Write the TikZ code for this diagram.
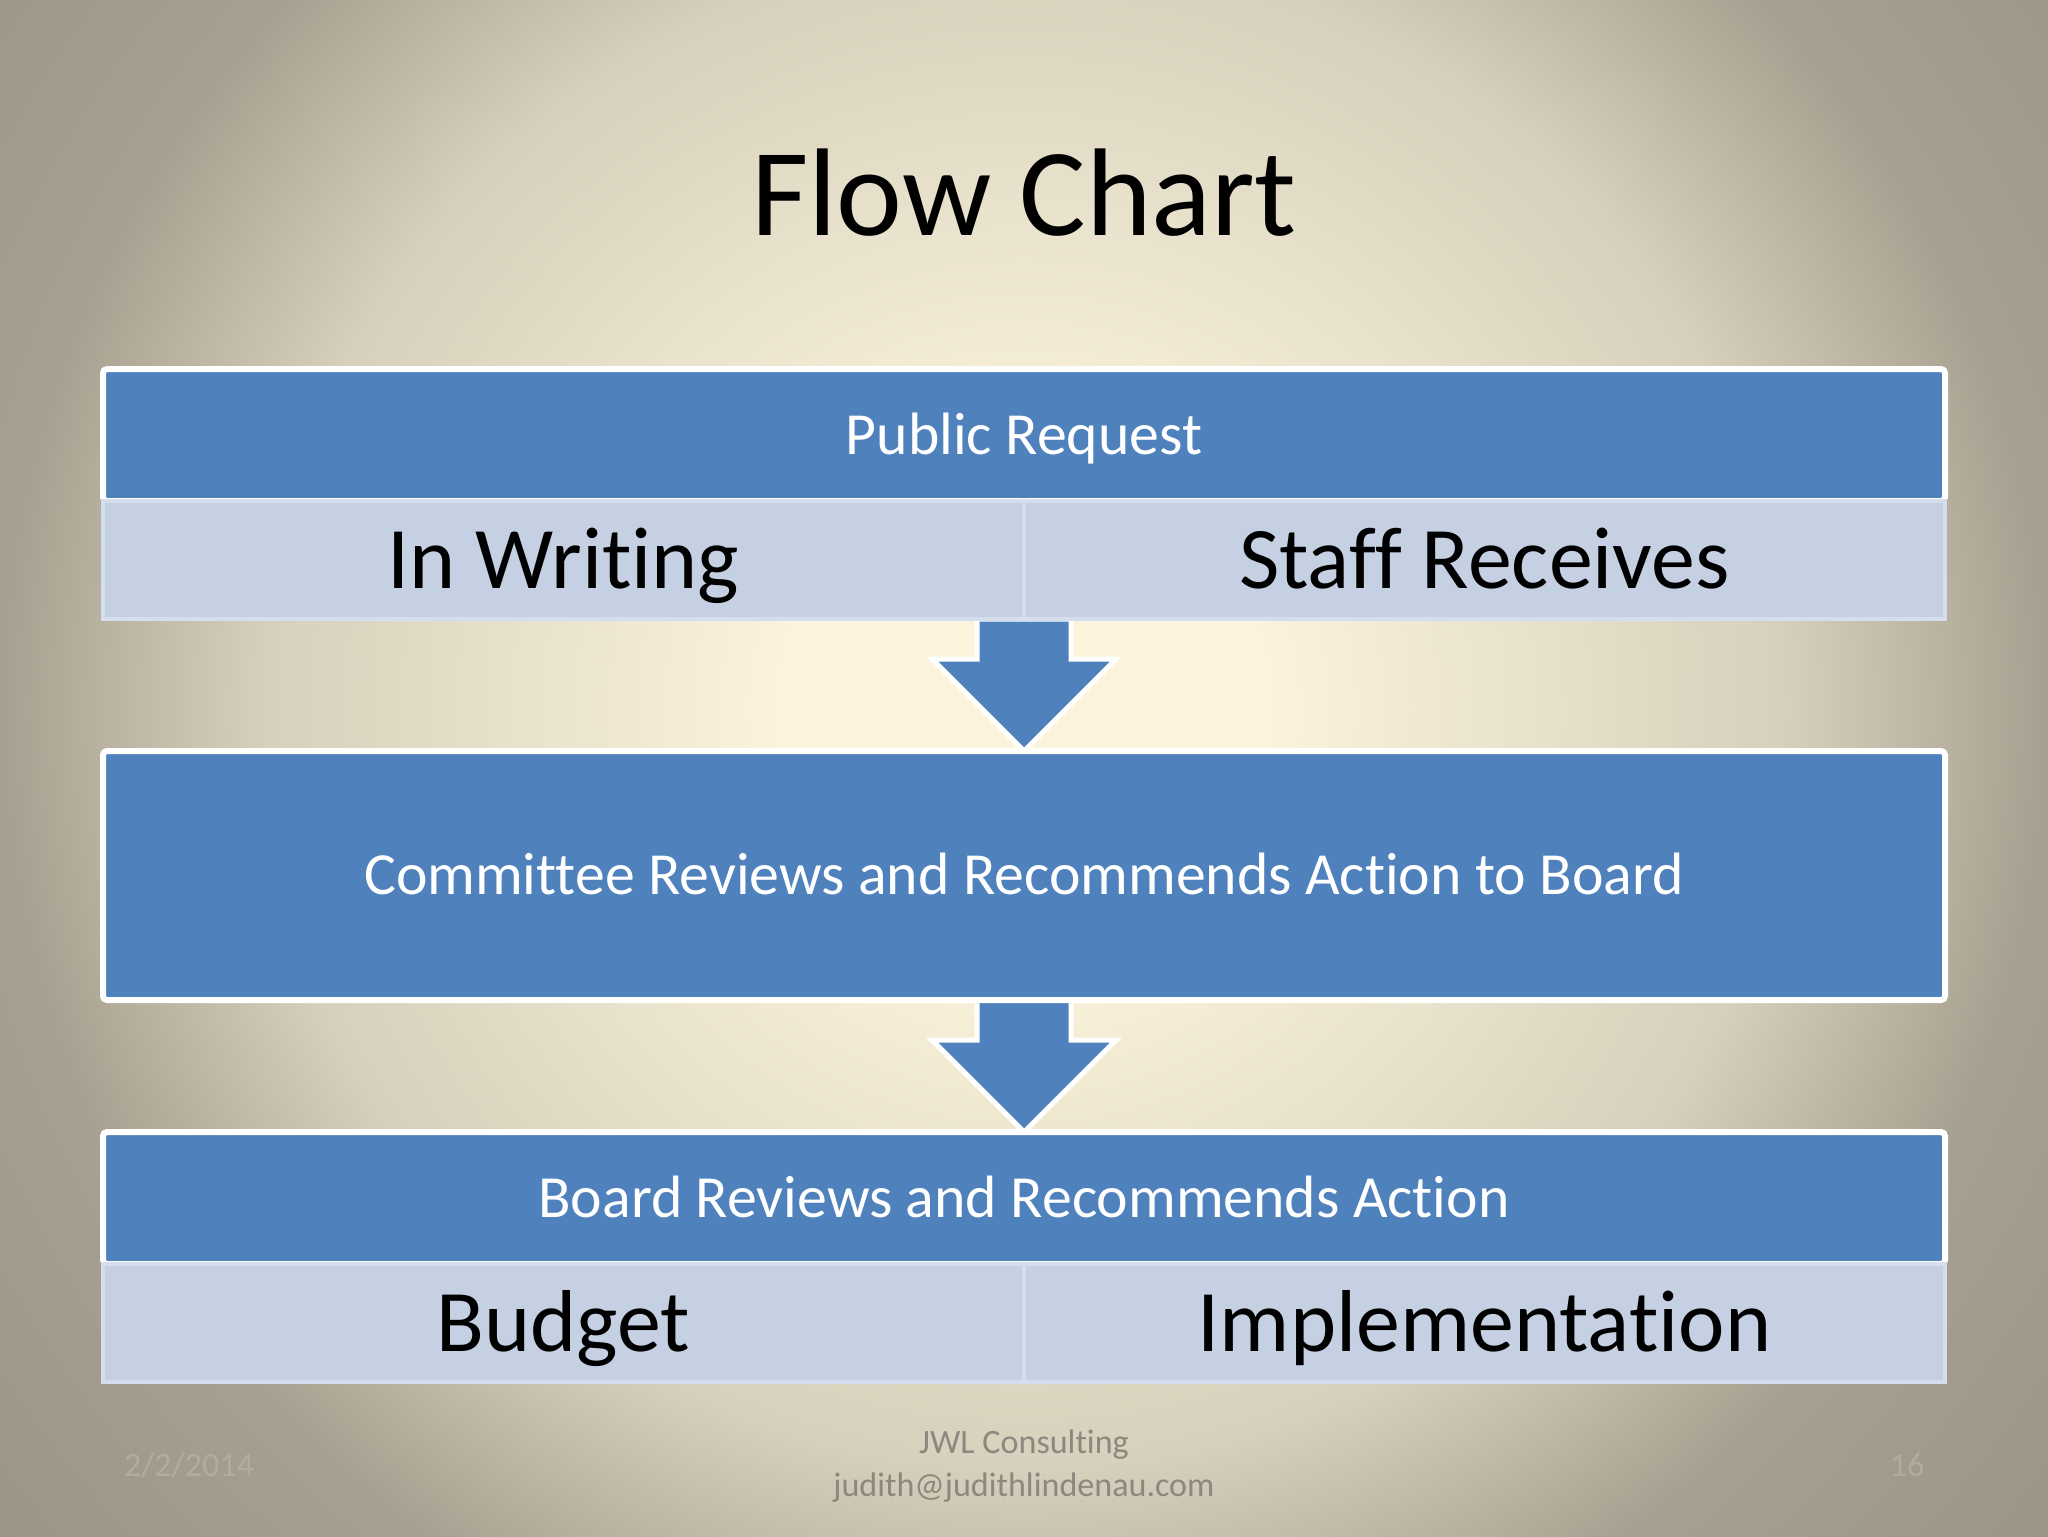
\documentclass[tikz,border=0pt]{standalone}
\usepackage{fontspec}
\setmainfont{Carlito}[Ligatures={NoCommon}]
\usetikzlibrary{positioning,calc,backgrounds}

\definecolor{hdrblue}{HTML}{4F81BD}
\definecolor{cellblue}{HTML}{C5D0E3}
\definecolor{cellline}{HTML}{D5DEEE}
\definecolor{bgcenter}{HTML}{FBF3DB}
\definecolor{bgmid}{HTML}{D6D0BC}
\definecolor{bgedge}{HTML}{A7A090}
\definecolor{bgcorner}{HTML}{968F80}
\definecolor{footgrey}{HTML}{8C887F}
\definecolor{faintgrey}{HTML}{B3AC9C}

\pgfdeclareradialshading{slidebg}{\pgfpoint{0bp}{0bp}}{color(0bp)=(bgcenter); color(6bp)=(bgcenter); color(18.5bp)=(bgmid); color(25bp)=(bgedge); color(36bp)=(bgcorner)}

\begin{document}
\begin{tikzpicture}[
            x=0.1mm, y=-0.1mm,
            every node/.style={align=center, inner sep=0pt, outer sep=0pt},
            header/.style={fill=hdrblue, draw=white, line width=0.6mm, rounded corners=0.4mm, minimum width=184.2mm, minimum height=13.2mm, text=white, text height=10.9pt, text depth=0pt, font=\fontsize{17}{20}\selectfont},
            cell/.style={fill=cellblue, draw=cellline, line width=0.4mm, minimum width=92.1mm, minimum height=11.8mm, text height=16.1pt, text depth=0pt, font=\fontsize{25}{30}\selectfont},
            bigbox/.style={header, minimum height=24.9mm},
            blockarrow/.style={fill=hdrblue, draw=white, line width=0.5mm, line join=miter},
            footer/.style={text=footgrey, font=\fontsize{9.7}{12}\selectfont},
            node distance = 13.2mm
  ]

  \useasboundingbox (0,0) rectangle (2048,1536);
  \begin{scope}[on background layer]
    \clip (0,0) rectangle (2048,1536);
    \shade[shading=slidebg] (0,-316) rectangle (2048,1732);
  \end{scope}

  \node[font=\fontsize{35.5}{40}\selectfont] (title) at (1024,193) {Flow Chart};

  \node[header] (request) at (1024,435) {Public Request};
  \node[cell, anchor=north east] (writing) at (request.south) {In Writing};
  \node[cell, anchor=north west] (staff) at (request.south) {Staff Receives};

  \node[bigbox] (committee) [below=of writing.south east] {Committee Reviews and Recommends Action to Board};

  \node[header] (board) [below=of committee] {Board Reviews and Recommends Action};
  \node[cell, anchor=north east] (budget) at (board.south) {Budget};
  \node[cell, anchor=north west] (implement) at (board.south) {Implementation};

  \begin{scope}[on background layer]
    \draw[blockarrow] ($(writing.south east)+(-47,0)$) -- ($(committee.north)+(-47,-92)$) -- ($(committee.north)+(-92,-92)$) -- (committee.north)
      -- ($(committee.north)+(92,-92)$) -- ($(committee.north)+(47,-92)$) -- ($(writing.south east)+(47,0)$) -- cycle;
    \draw[blockarrow] ($(committee.south)+(-47,0)$) -- ($(board.north)+(-47,-92)$) -- ($(board.north)+(-92,-92)$) -- (board.north)
      -- ($(board.north)+(92,-92)$) -- ($(board.north)+(47,-92)$) -- ($(committee.south)+(47,0)$) -- cycle;
  \end{scope}

  \node[footer] (contact) at (1024,1466) {JWL Consulting\\judith@judithlindenau.com};
  \node[footer, text=faintgrey] (date) at (189,1465) {2/2/2014};
  \node[footer, text=faintgrey] (page) at (1907,1465) {16};

\end{tikzpicture}
\end{document}
